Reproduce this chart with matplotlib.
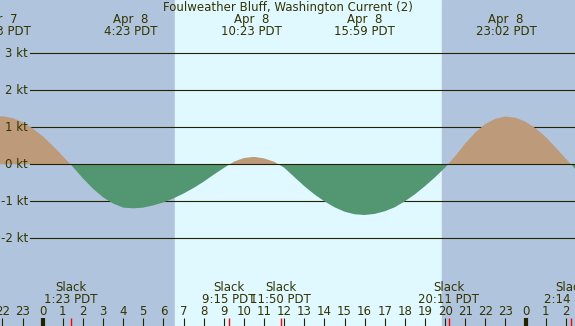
import numpy as np
import matplotlib
matplotlib.use("Agg")
import matplotlib.pyplot as plt

# current speed (kt) every half hour, hours from Apr 8 00:00 PDT
hours = np.arange(-2.5, 27.0, 0.5)
speed = [1.28, 1.30, 1.25, 1.14, 0.97, 0.76, 0.50, 0.22, -0.07, -0.38,
         -0.66, -0.89, -1.06, -1.17, -1.19, -1.17, -1.11, -1.03, -0.92, -0.79,
         -0.64, -0.47, -0.28, -0.10, 0.07, 0.17, 0.20, 0.16, 0.07, -0.09,
         -0.34, -0.59, -0.81, -1.00, -1.16, -1.28, -1.35, -1.37, -1.34, -1.27,
         -1.16, -1.00, -0.81, -0.59, -0.35, -0.09, 0.22, 0.56, 0.86, 1.09,
         1.23, 1.29, 1.26, 1.15, 0.97, 0.74, 0.45, 0.15, -0.15]

# max current events (top labels)
max_hours = [-2.12, 4.383, 10.383, 15.983, 23.033]
max_dates = ["Apr  7", "Apr  8", "Apr  8", "Apr  8", "Apr  8"]
max_labels = ["21:53 PDT", "4:23 PDT", "10:23 PDT", "15:59 PDT", "23:02 PDT"]

# slack events (bottom labels)
slack_hours = [1.383, 9.25, 11.833, 20.183, 26.233]
slack_labels = ["1:23 PDT", "9:15 PDT", "11:50 PDT", "20:11 PDT", "2:14 PDT"]

sunrise, sunset = 6.58, 19.85
kt_levels = [3, 2, 1, 0, -1, -2]
hour_ticks = list(range(-2, 27))

night = "#b0c4de"
day = "#e0f8ff"
flood = "#bd9a7a"
ebb = "#529672"
ink = "#222200"
txt = "#333300"

x0, x1 = -2.122, 26.456
y0, y1 = -4.37, 4.44

fig = plt.figure(figsize=(5.75, 3.26), dpi=100)
ax = fig.add_axes([0, 0, 1, 1])
ax.set_xlim(x0, x1)
ax.set_ylim(y0, y1)
ax.axis("off")

ax.axvspan(x0, sunrise, color=night, zorder=0)
ax.axvspan(sunrise, sunset, color=day, zorder=0)
ax.axvspan(sunset, x1, color=night, zorder=0)

line_start = 30 / 575
for k in kt_levels:
    ax.axhline(k, xmin=line_start, xmax=1, color=ink, lw=0.8,
               zorder=4 if k == 0 else 1)
    ax.text(x0 + 28 / 20.12, k, f"{k} kt", ha="right", va="center",
            fontsize=8.5, color=txt, zorder=5)

sp = np.array(speed)
ax.fill_between(hours, 0, sp, where=sp >= 0, interpolate=True,
                color=flood, lw=0, zorder=2)
ax.fill_between(hours, 0, sp, where=sp <= 0, interpolate=True,
                color=ebb, lw=0, zorder=2)

fig.text(0.5, 1 - 7 / 326, "Foulweather Bluff, Washington Current (2)",
         ha="center", va="center", fontsize=8.5, color=txt)
for h, d, lab in zip(max_hours, max_dates, max_labels):
    ax.text(h, y1 - 19 / 37, d, ha="center", va="center", fontsize=8.5, color=txt)
    ax.text(h, y1 - 31 / 37, lab, ha="center", va="center", fontsize=8.5, color=txt)

tick_top = y1 - 318 / 37
for h in hour_ticks:
    ax.text(h, y1 - 311 / 37, str(h % 24), ha="center", va="center",
            fontsize=8.5, color=txt)
    ax.vlines(h, y0, tick_top, color=ink,
              lw=3.0 if h % 24 == 0 else 0.8, zorder=5)

for h, lab in zip(slack_hours, slack_labels):
    ax.text(h, y1 - 287 / 37, "Slack", ha="center", va="center", fontsize=8.5, color=txt)
    ax.text(h, y1 - 299 / 37, lab, ha="center", va="center", fontsize=8.5, color=txt)
    ax.vlines(h, y0, tick_top, color="red", lw=1.0, zorder=6)

fig.savefig("out.png", dpi=100)
